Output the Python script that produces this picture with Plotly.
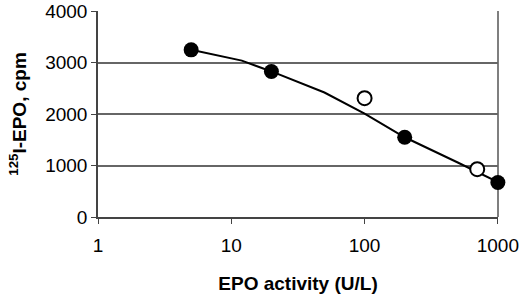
import plotly.graph_objects as go

# Filled-circle series
filled_x = [5, 20, 200, 1000]
filled_y = [3250, 2830, 1550, 670]
# Open-circle series
open_x = [100, 700]
open_y = [2310, 930]
# Fitted curve
fit_x = [5, 12, 20, 50, 100, 200, 500, 700, 1000]
fit_y = [3250, 3040, 2830, 2420, 2010, 1550, 1060, 880, 680]

y_ticks = [0, 1000, 2000, 3000, 4000]
x_ticks = [1, 10, 100, 1000]

fig = go.Figure()
fig.add_trace(go.Scatter(x=fit_x, y=fit_y, mode="lines",
                         line=dict(color="black", width=2), showlegend=False))
fig.add_trace(go.Scatter(x=filled_x, y=filled_y, mode="markers",
                         marker=dict(color="black", size=15), showlegend=False,
                         cliponaxis=False))
fig.add_trace(go.Scatter(x=open_x, y=open_y, mode="markers",
                         marker=dict(color="white", size=14, line=dict(color="black", width=2)),
                         showlegend=False, cliponaxis=False))

font_family = "Liberation Sans, Arial, sans-serif"
fig.update_layout(
    width=520, height=298,
    margin=dict(l=98, r=22, t=11, b=81),
    paper_bgcolor="white", plot_bgcolor="white",
    font=dict(family=font_family, color="black", size=19),
    xaxis=dict(type="log", range=[0, 3.001], tickvals=x_ticks, ticktext=[str(v) for v in x_ticks],
               showgrid=False, zeroline=False, showline=True, linecolor="#444444", linewidth=1.5,
               ticks="outside", ticklen=5, tickcolor="#444444", ticklabeloverflow="allow",
               ticklabelstandoff=5, automargin=False,
               title=dict(text="<b>EPO activity (U/L)</b>", font=dict(size=19), standoff=22)),
    yaxis=dict(range=[0, 4005], tickvals=y_ticks, showgrid=True, gridcolor="#666666", gridwidth=1.5,
               zeroline=False, showline=True, linecolor="#444444", linewidth=1.5,
               ticks="outside", ticklen=5, tickcolor="#444444", ticklabeloverflow="allow",
               automargin=False,
               title=dict(text="<b><sup>125</sup>I-EPO, cpm</b>", font=dict(size=19), standoff=14)),
)
fig.add_shape(type="line", xref="paper", yref="paper", x0=1, x1=1, y0=0, y1=1,
              line=dict(color="#555555", width=1.5), layer="below")
fig.write_html("out.html", config={"displayModeBar": False},
               post_script="document.body.style.margin='0';document.body.style.overflow='hidden';")
